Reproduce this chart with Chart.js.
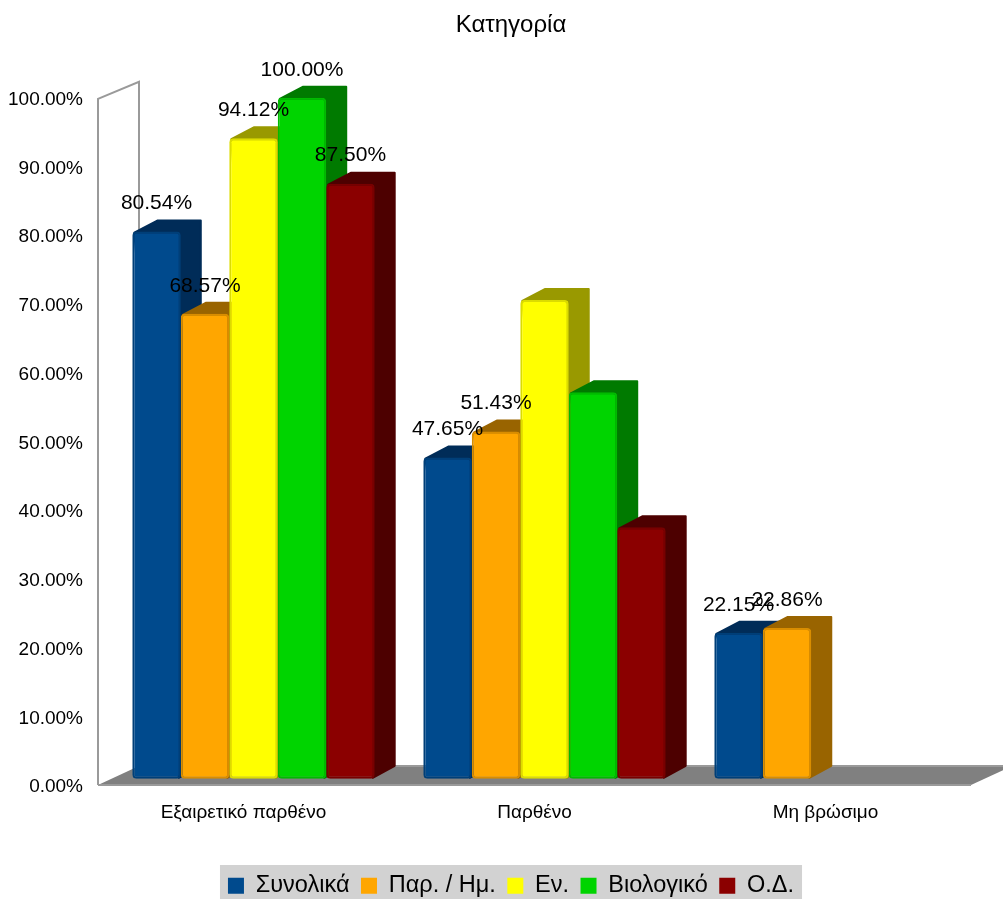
<!DOCTYPE html>
<html>
<head>
<meta charset="utf-8">
<title>Κατηγορία</title>
<script src="https://cdn.jsdelivr.net/npm/chart.js@4/dist/chart.umd.min.js"></script>
<style>
  html, body { margin: 0; padding: 0; background: #fff; }
  canvas { display: block; }
</style>
</head>
<body>
<canvas id="chart" width="1003" height="899"></canvas>
<script>
var categories = ["Εξαιρετικό παρθένο", "Παρθένο", "Μη βρώσιμο"];
var seriesNames = ["Συνολικά", "Παρ. / Ημ.", "Εν.", "Βιολογικό", "Ο.Δ."];
var totalValues = [80.54, 47.65, 22.15];
var parValues = [68.57, 51.43, 22.86];
var enValues = [94.12, 70.59, null];
var bioValues = [100, 57.14, null];
var odValues = [87.5, 37.5, null];
var faceColors = ["#004a8d", "#ffa600", "#ffff00", "#00d400", "#8b0000"];
var edgeColors = ["#003f78", "#d98d00", "#dcdc00", "#00bb00", "#780000"];
var sideColors = ["#002c58", "#996400", "#999900", "#007a00", "#4d0000"];
// the source chart leaves these data labels out (series:category)
var unlabeled = ["2:1", "3:1", "4:1"];

var FONT = '"Liberation Sans", Arial, sans-serif';
var DEPTH_X = 21, DEPTH_Y = 11; // bar extrusion
var WALL_X = 41, WALL_Y = 19;   // floor and back wall depth
var SHIFT_X = 10;               // bars sit this far right of the front edge

function fmt(v) {
  return v.toFixed(2) + "%";
}

var room3d = {
  id: "room3d",
  afterLayout: function (chart) {
    // tick labels are wider than the axis box, stop them being clipped
    chart.scales.y.left = 0;
  },
  beforeDatasetsDraw: function (chart) {
    var ctx = chart.ctx, y = chart.scales.y, area = chart.chartArea;
    var left = area.left - SHIFT_X, right = area.right - SHIFT_X;
    var y0 = y.getPixelForValue(0), y100 = y.getPixelForValue(100);
    ctx.save();
    // floor
    ctx.fillStyle = "#808080";
    ctx.beginPath();
    ctx.moveTo(left, y0);
    ctx.lineTo(left + WALL_X, y0 - WALL_Y);
    ctx.lineTo(right + WALL_X, y0 - WALL_Y);
    ctx.lineTo(right, y0);
    ctx.closePath();
    ctx.fill();
    // wall outline
    ctx.strokeStyle = "#9a9a9a";
    ctx.lineWidth = 2;
    ctx.beginPath();
    ctx.moveTo(left, y0);
    ctx.lineTo(left, y100 + 1);
    ctx.lineTo(left + WALL_X, y100 - WALL_Y + 3);
    ctx.lineTo(left + WALL_X, y0 - WALL_Y);
    ctx.moveTo(left + WALL_X, y0 - WALL_Y);
    ctx.lineTo(right + WALL_X, y0 - WALL_Y);
    ctx.moveTo(left, y0);
    ctx.lineTo(right, y0);
    ctx.stroke();
    // bar extrusions, left to right
    ctx.lineJoin = "round";
    ctx.lineWidth = 2;
    for (var c = 0; c < categories.length; c++) {
      for (var s = 0; s < seriesNames.length; s++) {
        var bar = chart.getDatasetMeta(s).data[c];
        if (chart.data.datasets[s].data[c] == null) continue;
        var l = bar.x - bar.width / 2, r = bar.x + bar.width / 2;
        ctx.fillStyle = sideColors[s];
        ctx.strokeStyle = sideColors[s];
        ctx.beginPath();
        ctx.moveTo(l + 2, bar.y + 1);
        ctx.lineTo(l + 2 + DEPTH_X + 2, bar.y - DEPTH_Y);
        ctx.lineTo(r + DEPTH_X - 1, bar.y - DEPTH_Y);
        ctx.lineTo(r + DEPTH_X - 1, bar.base - DEPTH_Y - 2);
        ctx.lineTo(r - 2, bar.base - 1);
        ctx.closePath();
        ctx.fill();
        ctx.stroke();
      }
    }
    ctx.restore();
  },
  afterDatasetsDraw: function (chart) {
    var ctx = chart.ctx;
    ctx.save();
    ctx.fillStyle = "#000";
    ctx.font = "21px " + FONT;
    ctx.textAlign = "center";
    ctx.textBaseline = "middle";
    for (var s = 0; s < seriesNames.length; s++) {
      for (var c = 0; c < categories.length; c++) {
        var v = chart.data.datasets[s].data[c];
        if (v == null || unlabeled.indexOf(s + ":" + c) >= 0) continue;
        var bar = chart.getDatasetMeta(s).data[c];
        ctx.fillText(fmt(v), bar.x, bar.y - 28);
      }
    }
    ctx.restore();
  },
  beforeDraw: function (chart) {
    // grey strip behind the legend
    var boxes = chart.legend.legendHitBoxes;
    var last = boxes[boxes.length - 1];
    var ctx = chart.ctx;
    ctx.save();
    ctx.fillStyle = "#d2d2d2";
    ctx.fillRect(boxes[0].left - 8, 865, last.left + last.width - boxes[0].left + 16, 34);
    ctx.restore();
  }
};

var allValues = [totalValues, parValues, enValues, bioValues, odValues];

new Chart(document.getElementById("chart"), {
  type: "bar",
  plugins: [room3d],
  data: {
    labels: categories,
    datasets: seriesNames.map(function (name, i) {
      return {
        label: name,
        data: allValues[i],
        base: 0.9,
        backgroundColor: faceColors[i],
        borderColor: edgeColors[i],
        borderWidth: 2,
        borderRadius: 4,
        borderSkipped: false,
        categoryPercentage: 0.833,
        barPercentage: 1
      };
    })
  },
  options: {
    responsive: false,
    animation: false,
    layout: { padding: { left: 41, right: 22, top: 11, bottom: -8.5 } },
    plugins: {
      tooltip: { enabled: false },
      title: {
        display: true,
        text: "Κατηγορία",
        color: "#000",
        font: { family: FONT, size: 24, weight: "normal" },
        padding: { top: 0, bottom: 58 }
      },
      legend: {
        position: "bottom",
        labels: {
          color: "#000",
          boxWidth: 16,
          boxHeight: 16,
          padding: 11.5,
          font: { family: FONT, size: 23.5 },
          generateLabels: function (chart) {
            return Chart.defaults.plugins.legend.labels.generateLabels(chart).map(function (item) {
              item.lineWidth = 0;
              return item;
            });
          }
        }
      }
    },
    scales: {
      x: {
        grid: { display: false },
        border: { display: false },
        afterFit: function (scale) { scale.height = 77.5; },
        ticks: {
          color: "#000",
          padding: 8,
          labelOffset: -SHIFT_X,
          maxRotation: 0,
          font: { family: FONT, size: 19 }
        }
      },
      y: {
        min: 0,
        max: 100,
        grid: { display: false },
        border: { display: false },
        afterFit: function (scale) { scale.width = 67; },
        ticks: {
          color: "#000",
          stepSize: 10,
          padding: 17,
          labelOffset: 2,
          font: { family: FONT, size: 19 },
          callback: function (v) { return fmt(v); }
        }
      }
    }
  }
});
</script>
</body>
</html>
